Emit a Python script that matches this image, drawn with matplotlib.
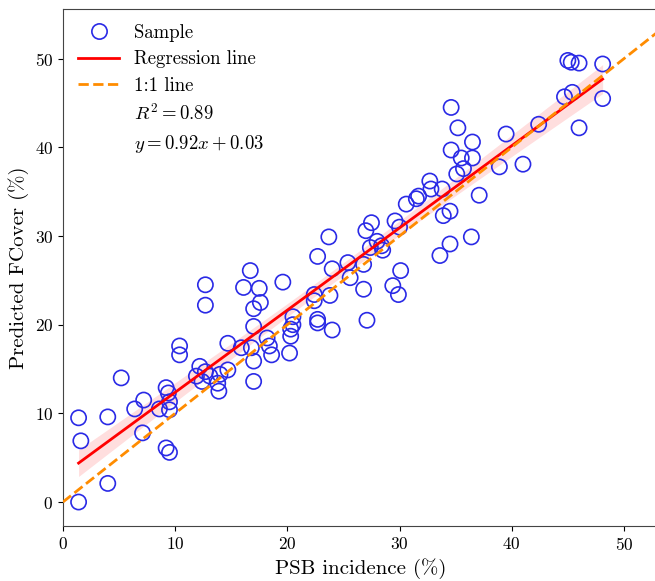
import matplotlib
matplotlib.use("Agg")
import matplotlib.pyplot as plt
from matplotlib.lines import Line2D
import numpy as np

plt.rcParams['font.family'] = 'serif'
plt.rcParams['font.serif'] = ['cmr10']
plt.rcParams['mathtext.fontset'] = 'cm'
plt.rcParams['axes.formatter.use_mathtext'] = True

# PSB incidence (%) -- measured
psb = [1.4, 4.0, 1.4, 1.6, 4.0, 5.2, 6.4, 7.2, 7.1, 9.2, 9.5, 9.2, 9.4, 9.5, 9.5, 8.6,
       10.4, 10.4, 12.2, 12.7, 11.9, 13.1, 12.4, 13.8, 13.9, 14.0, 14.7, 14.7,
       12.7, 12.7, 16.7, 16.1, 17.5, 19.6, 17.6, 17.0, 17.0, 15.9, 16.8, 17.0, 17.0,
       18.2, 18.4, 18.6, 20.5, 20.5, 20.3, 20.3, 20.2,
       22.7, 23.7, 24.0, 23.8, 22.4, 22.4, 22.7, 22.7, 24.0, 25.4, 26.8, 25.6, 26.8,
       27.1, 27.5, 27.0, 28.0, 27.4, 28.4, 28.5, 29.6, 30.0, 30.1, 29.4, 29.9,
       30.6, 31.7, 31.5, 32.7, 32.8, 33.8, 33.6, 34.5, 33.9, 36.4, 34.5,
       34.6, 35.2, 36.5, 34.6, 35.5, 36.5, 35.7, 35.1, 37.1, 38.9, 39.5, 41.0, 42.4,
       44.7, 45.4, 45.0, 45.3, 46.0, 48.1, 48.1, 46.0]

# Predicted FCover (%)
fcover = [0.0, 2.1, 9.5, 6.9, 9.6, 14.0, 10.5, 11.5, 7.8, 6.1, 5.6, 12.9, 12.3, 11.3, 10.4, 10.5,
          17.6, 16.6, 15.3, 14.7, 14.2, 14.2, 13.6, 13.4, 12.5, 14.4, 14.9, 17.9,
          24.5, 22.2, 26.1, 24.2, 24.1, 24.8, 22.5, 21.8, 19.8, 17.4, 17.4, 15.9, 13.6,
          18.5, 17.6, 16.6, 20.9, 20.0, 19.5, 18.7, 16.8,
          27.7, 29.9, 26.3, 23.3, 23.4, 22.7, 20.6, 20.2, 19.4, 27.0, 26.8, 25.3, 24.0,
          20.5, 31.5, 30.6, 29.4, 28.7, 28.9, 28.4, 31.7, 31.0, 26.1, 24.4, 23.4,
          33.6, 34.5, 34.2, 36.2, 35.3, 35.3, 27.8, 32.8, 32.3, 29.9, 29.1,
          44.5, 42.2, 40.6, 39.7, 38.8, 38.8, 37.6, 37.0, 34.6, 37.8, 41.5, 38.1, 42.6,
          45.7, 46.2, 49.8, 49.6, 49.5, 49.4, 45.5, 42.2]

r2_label = r'$R^2=0.89$'
eq_label = r'$y=0.92x+0.03$'

x = np.array(psb)
y = np.array(fcover)

# least squares fit and 95% confidence band of the mean
slope, intercept = np.polyfit(x, y, 1)
xs = np.linspace(x.min(), x.max(), 100)
ys = slope * xs + intercept
n = len(x)
resid = y - (slope * x + intercept)
s = np.sqrt(np.sum(resid ** 2) / (n - 2))
se = s * np.sqrt(1 / n + (xs - x.mean()) ** 2 / np.sum((x - x.mean()) ** 2))
band = 1.98 * se

fig = plt.figure(figsize=(6.55, 5.81), dpi=100)
ax = fig.add_axes([0.096, 0.0947, 0.908, 0.8898])

ax.scatter(x, y, s=120, facecolors='none', edgecolors='#2a2ae6', linewidths=1.2, zorder=3)
ax.fill_between(xs, ys - band, ys + band, color='red', alpha=0.13, linewidth=0, zorder=2)
ax.plot(xs, ys, color='red', lw=2, zorder=4)
ax.plot([0, 60], [0, 60], color='darkorange', lw=2, ls='--', zorder=4)

ax.set_xlim(0, 53)
ax.set_ylim(-2.7, 55.6)
ax.set_xticks([0, 10, 20, 30, 40, 50])
ax.set_yticks([0, 10, 20, 30, 40, 50])
ax.tick_params(labelsize=12.5)
for sp in ax.spines.values():
    sp.set_color('#444444')
ax.set_xlabel('PSB incidence (%)', fontsize=15)
ax.set_ylabel('Predicted FCover (%)', fontsize=15)

handles = [
    Line2D([], [], marker='o', ls='none', ms=11, mfc='none', mec='#2a2ae6', mew=1.2),
    Line2D([], [], color='red', lw=2),
    Line2D([], [], color='darkorange', lw=2, ls='--'),
    Line2D([], [], ls='none'),
    Line2D([], [], ls='none'),
]
labels = ['Sample', 'Regression line', '1:1 line', r2_label, eq_label]
ax.legend(handles, labels, loc='upper left', frameon=False, fontsize=13.5,
          handlelength=2.2, borderaxespad=0.4, labelspacing=0.45)

fig.savefig('out.png', dpi=100)
